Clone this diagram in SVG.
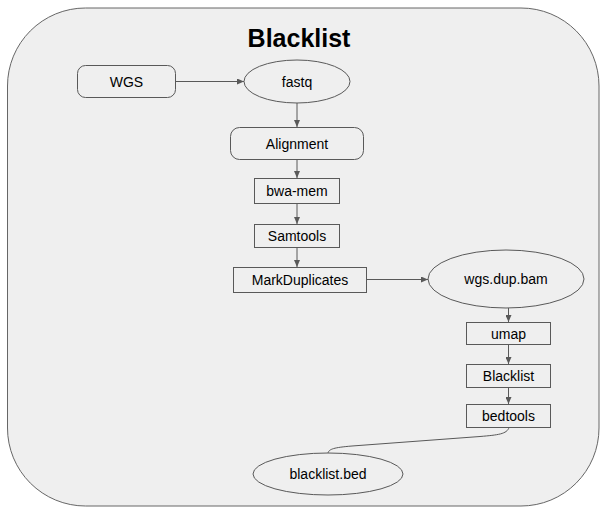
<svg xmlns="http://www.w3.org/2000/svg" width="604" height="512" viewBox="0 0 604 512">
<defs>
<marker id="ah" markerWidth="8" markerHeight="6" refX="7" refY="3" orient="auto" markerUnits="userSpaceOnUse">
<path d="M0,0 L7,3 L0,6 Z" fill="#595959"/>
</marker>
<style>
.n{fill:#efefef;stroke:#595959;stroke-width:1}
.t{font-family:"Liberation Sans",Arial,sans-serif;font-size:14px;fill:#000;text-anchor:middle}
.c{fill:none;stroke:#595959;stroke-width:1}
</style>
</defs>
<rect width="604" height="512" fill="#ffffff"/>
<g id="container">
<rect x="7.5" y="8" width="591.5" height="498" rx="78" ry="78" fill="#efefef" stroke="#666666" stroke-width="1"/>
<text x="299" y="47" font-family="'Liberation Sans',Arial,sans-serif" font-size="25" font-weight="bold" text-anchor="middle" fill="#000">Blacklist</text>
</g>
<g id="connectors">
<path class="c" d="M176,81.5 L244,81.5" marker-end="url(#ah)"/>
<path class="c" d="M297,103 L297,127" marker-end="url(#ah)"/>
<path class="c" d="M297,159.5 L297,178" marker-end="url(#ah)"/>
<path class="c" d="M297,203.5 L297,224" marker-end="url(#ah)"/>
<path class="c" d="M297,247.5 L297,267" marker-end="url(#ah)"/>
<path class="c" d="M366.5,279.5 L428,279.5" marker-end="url(#ah)"/>
<path class="c" d="M508.5,308 L508.5,322" marker-end="url(#ah)"/>
<path class="c" d="M508.5,344.5 L508.5,364" marker-end="url(#ah)"/>
<path class="c" d="M508.5,387.5 L508.5,404" marker-end="url(#ah)"/>
<path class="c" d="M509,427.5 C507,434 498,435 480,436.5 L352,446 C334,447.5 329,449 328,453"/>
</g>
<g id="WGS"><rect class="n" x="77.5" y="65.5" width="98" height="32" rx="8"/><text class="t" x="126.5" y="86.5">WGS</text></g>
<g id="fastq"><ellipse class="n" cx="297" cy="81.5" rx="53" ry="21.5"/><text class="t" x="297" y="86.5">fastq</text></g>
<g id="Alignment"><rect class="n" x="230.5" y="127.5" width="133" height="32" rx="9"/><text class="t" x="297" y="148.5">Alignment</text></g>
<g id="bwa-mem"><rect class="n" x="254.5" y="178.5" width="85" height="25"/><text class="t" x="297" y="196">bwa-mem</text></g>
<g id="Samtools"><rect class="n" x="254.5" y="224.5" width="85" height="23"/><text class="t" x="297" y="241">Samtools</text></g>
<g id="MarkDuplicates"><rect class="n" x="233.5" y="267.5" width="133" height="25"/><text class="t" x="300" y="285">MarkDuplicates</text></g>
<g id="wgs.dup.bam"><ellipse class="n" cx="506" cy="279" rx="78" ry="29"/><text class="t" x="506" y="284">wgs.dup.bam</text></g>
<g id="umap"><rect class="n" x="466.5" y="322.5" width="84" height="22"/><text class="t" x="508.5" y="338.5">umap</text></g>
<g id="Blacklist"><rect class="n" x="466.5" y="364.5" width="84" height="23"/><text class="t" x="508.5" y="381">Blacklist</text></g>
<g id="bedtools"><rect class="n" x="466.5" y="404.5" width="84" height="23"/><text class="t" x="508.5" y="421">bedtools</text></g>
<g id="blacklist.bed"><ellipse class="n" cx="328" cy="474" rx="75" ry="21"/><text class="t" x="328" y="479">blacklist.bed</text></g>
</svg>
